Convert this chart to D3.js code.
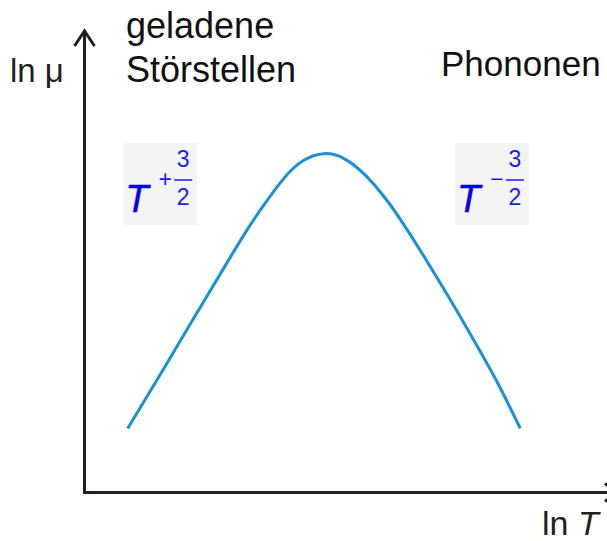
<!DOCTYPE html>
<html>
<head>
<meta charset="utf-8">
<script src="https://cdn.jsdelivr.net/npm/d3@7"></script>
<style>
  html, body { margin: 0; padding: 0; background: #fff; }
  svg { display: block; }
  text { font-family: 'Liberation Sans', Arial, sans-serif; }
</style>
</head>
<body>
<svg></svg>
<script>
'use strict'

const width = 607,
  height = 541

// curve (ln T -> ln mu, arbitrary units 0..10)
const lnT = [0.83, 1.46, 2.1, 2.62, 3.06, 3.4, 3.83, 4.21, 4.6, 5.0, 5.4, 5.8, 6.2, 6.6, 7.1, 7.6, 8.0, 8.38]
const lnMu = [1.49, 2.75, 4.05, 5.1, 5.98, 6.6, 7.3, 7.72, 7.88, 7.76, 7.38, 6.82, 6.12, 5.35, 4.35, 3.3, 2.42, 1.49]

// region labels
const leftLabel = ['geladene', 'Störstellen']
const rightLabel = ['Phononen']
const exponents = [{ sign: '+', at: 2.09 }, { sign: '\u2212', at: 8.47 }]

const svg = d3.select('svg')
  .attr('width', width)
  .attr('height', height)

const xScale = d3.scaleLinear().domain([0, 10]).range([84.5, 604.5])
const yScale = d3.scaleLinear().domain([0, 10]).range([492.5, 62.5])

const axisColor = '#231f20'

// axes with arrow heads
svg.append('path')
  .attr('d', `M${xScale(0)},${yScale(0) + 1.5} L${xScale(0)},31`)
  .attr('stroke', axisColor).attr('stroke-width', 3).attr('fill', 'none')
svg.append('path')
  .attr('d', `M${xScale(0) - 10},46 L${xScale(0)},31 L${xScale(0) + 10},46`)
  .attr('stroke', axisColor).attr('stroke-width', 3).attr('fill', 'none')
svg.append('path')
  .attr('d', `M${xScale(0) - 1.5},${yScale(0)} L${width + 10},${yScale(0)}`)
  .attr('stroke', axisColor).attr('stroke-width', 3).attr('fill', 'none')
svg.append('path')
  .attr('d', `M${width - 2},${yScale(0) - 9} L${width + 9},${yScale(0)} L${width - 2},${yScale(0) + 9}`)
  .attr('stroke', axisColor).attr('stroke-width', 3).attr('fill', 'none')

// axis titles
svg.append('text')
  .attr('x', 10).attr('y', 82)
  .attr('font-size', 33).attr('fill', '#231f20')
  .text('ln \u03bc')

const xt = svg.append('text')
  .attr('x', 542).attr('y', 535)
  .attr('font-size', 34).attr('fill', '#231f20')
xt.append('tspan').text('ln ')
xt.append('tspan').attr('font-style', 'italic').text('T')

// region labels
svg.append('g')
  .selectAll('text')
  .data(leftLabel)
  .enter()
  .append('text')
  .attr('x', 126)
  .attr('y', (d, i) => 38 + i * 44)
  .attr('font-size', 36)
  .attr('fill', '#111')
  .text(d => d)

svg.append('text')
  .attr('x', 441).attr('y', 76)
  .attr('font-size', 35).attr('fill', '#111')
  .text(rightLabel[0])

// T^(+-3/2) boxes
const boxes = svg.append('g')
  .selectAll('g')
  .data(exponents)
  .enter()
  .append('g')
  .attr('transform', d => `translate(${xScale(d.at) - 70},143)`)

boxes.append('rect')
  .attr('width', 74).attr('height', 82)
  .attr('fill', '#f4f4f4')

boxes.append('text')
  .attr('x', 2).attr('y', 69)
  .attr('font-size', 38).attr('font-style', 'italic')
  .attr('fill', '#0000f0')
  .attr('stroke', '#0000f0').attr('stroke-width', 0.5)
  .text('T')

boxes.append('text')
  .attr('x', 42).attr('y', 44)
  .attr('font-size', 23)
  .attr('text-anchor', 'middle')
  .attr('fill', '#1a1aff')
  .text(d => d.sign)

boxes.append('text')
  .attr('x', 60).attr('y', 24)
  .attr('font-size', 23).attr('text-anchor', 'middle')
  .attr('fill', '#1a1aff')
  .text('3')
boxes.append('line')
  .attr('x1', 51).attr('x2', 69).attr('y1', 37).attr('y2', 37)
  .attr('stroke', '#1a1aff').attr('stroke-width', 1.5)
boxes.append('text')
  .attr('x', 60).attr('y', 62)
  .attr('font-size', 23).attr('text-anchor', 'middle')
  .attr('fill', '#1a1aff')
  .text('2')

// mobility curve
const points = lnT.map((t, i) => [t, lnMu[i]])
const line = d3.line()
  .x(d => xScale(d[0]))
  .y(d => yScale(d[1]))
  .curve(d3.curveNatural)

svg.append('path')
  .datum(points)
  .attr('d', line)
  .attr('fill', 'none')
  .attr('stroke', '#1a8fdc')
  .attr('stroke-width', 3)
</script>
</body>
</html>
